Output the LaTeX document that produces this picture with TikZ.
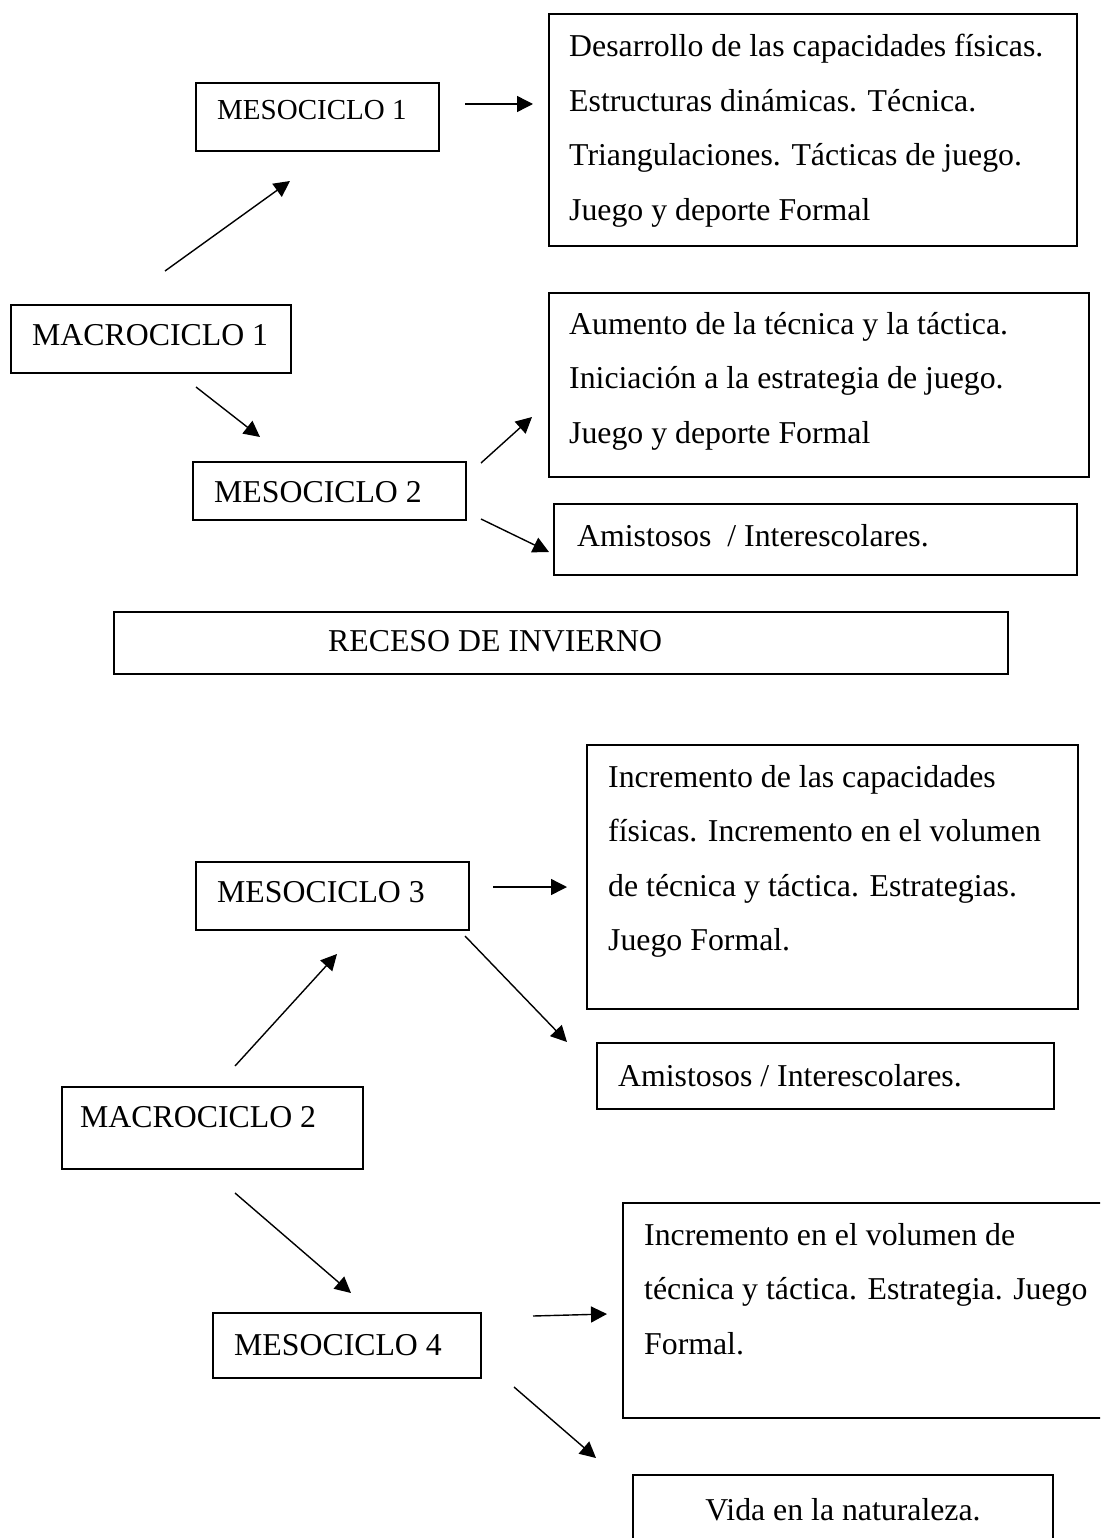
\documentclass[tikz,border=0pt]{standalone}
\usepackage{fontspec}
\setmainfont{Liberation Serif}
\usetikzlibrary{arrows.meta}
% strut that fixes the top of a paragraph node above its first baseline
\newcommand\firstln{\rule{0pt}{25pt}}
\begin{document}
\begin{tikzpicture}[x=1pt,y=-1pt,
  box/.style={draw, line width=1.8pt, rectangle, inner sep=0pt},
  lbl/.style={anchor=base west, inner sep=0pt, font=\fontsize{31.8}{38}\selectfont},
  para/.style={anchor=north west, inner sep=0pt, align=left, font=\fontsize{31.8}{54.5}\selectfont},
  arr/.style={-{Triangle[length=16pt,width=16pt]}, line width=1.4pt}]
\useasboundingbox (0,0) rectangle (1100,1538);
\clip (0,0) rectangle (1100,1538);

% ---------- boxes ----------
\node[box, minimum width=243pt, minimum height=68pt]  (meso1)  at (317.5,117)  {};
\node[box, minimum width=528pt, minimum height=232pt] (cont1)  at (813,130)    {};
\node[box, minimum width=280pt, minimum height=68pt]  (macro1) at (151,339)    {};
\node[box, minimum width=540pt, minimum height=184pt] (cont2)  at (819,385)    {};
\node[box, minimum width=273pt, minimum height=58pt]  (meso2)  at (329.5,491)  {};
\node[box, minimum width=523pt, minimum height=71pt]  (amis1)  at (815.5,539.5){};
\node[box, minimum width=894pt, minimum height=62pt]  (receso) at (561,643)    {};
\node[box, minimum width=491pt, minimum height=264pt] (cont3)  at (832.5,877)  {};
\node[box, minimum width=273pt, minimum height=68pt]  (meso3)  at (332.5,896)  {};
\node[box, minimum width=457pt, minimum height=66pt]  (amis2)  at (825.5,1076) {};
\node[box, minimum width=301pt, minimum height=82pt]  (macro2) at (212.5,1128) {};
\node[box, minimum width=487pt, minimum height=215pt] (cont4)  at (866.5,1310.5){};
\node[box, minimum width=268pt, minimum height=65pt]  (meso4)  at (347,1345.5) {};
\node[box, minimum width=420pt, minimum height=85pt]  (vida)   at (843,1517.5) {};

% ---------- texts ----------
\node[lbl, font=\fontsize{29}{35}\selectfont] (meso1t) at (217,120) {MESOCICLO 1};
\node[lbl] (macro1t) at (32,345)  {MACROCICLO 1};
\node[lbl] (meso2t)  at (214,502) {MESOCICLO 2};
\node[lbl] (amis1t)  at (577,546) {Amistosos \ / Interescolares.};
\node[lbl] (recesot) at (328,651) {RECESO DE INVIERNO};
\node[lbl] (meso3t)  at (217,902) {MESOCICLO 3};
\node[lbl] (amis2t)  at (618,1086) {Amistosos / Interescolares.};
\node[lbl] (macro2t) at (80,1127) {MACROCICLO 2};
\node[lbl] (meso4t)  at (234,1355) {MESOCICLO 4};
\node[lbl, anchor=base] (vidat) at (843,1520) {Vida en la naturaleza.};

\node[para] (cont1t) at (569,31.5) {\firstln Desarrollo de las capacidades físicas.\\
  Estructuras dinámicas. Técnica.\\
  Triangulaciones. Tácticas de juego.\\
  Juego y deporte Formal};
\node[para] (cont2t) at (569,309) {\firstln Aumento de la técnica y la táctica.\\
  Iniciación a la estrategia de juego.\\
  Juego y deporte Formal};
\node[para] (cont3t) at (608,762) {\firstln Incremento de las capacidades\\
  físicas. Incremento en el volumen\\
  de técnica y táctica. Estrategias.\\
  Juego Formal.};
\node[para] (cont4t) at (644,1220) {\firstln Incremento en el volumen de\\
  técnica y táctica. Estrategia. Juego\\
  Formal.};

% ---------- connector end points ----------
\coordinate (a1s) at (465,104);  \coordinate (a1e) at (533,104);
\coordinate (a2s) at (165,271);  \coordinate (a2e) at (290,181);
\coordinate (a3s) at (196,387);  \coordinate (a3e) at (260,437);
\coordinate (a4s) at (481,463);  \coordinate (a4e) at (532,417);
\coordinate (a5s) at (481,519);  \coordinate (a5e) at (549,552);
\coordinate (b1s) at (235,1066); \coordinate (b1e) at (337,954);
\coordinate (b2s) at (493,887);  \coordinate (b2e) at (567,887);
\coordinate (b3s) at (465,936);  \coordinate (b3e) at (567,1042);
\coordinate (b4s) at (235,1193); \coordinate (b4e) at (351,1293);
\coordinate (b5s) at (533,1316); \coordinate (b5e) at (607,1314);
\coordinate (b6s) at (514,1387); \coordinate (b6e) at (596,1458);

% ---------- connectors ----------
\draw[arr] (a1s) -- (a1e);
\draw[arr] (a2s) -- (a2e);
\draw[arr] (a3s) -- (a3e);
\draw[arr] (a4s) -- (a4e);
\draw[arr] (a5s) -- (a5e);
\draw[arr] (b1s) -- (b1e);
\draw[arr] (b2s) -- (b2e);
\draw[arr] (b3s) -- (b3e);
\draw[arr] (b4s) -- (b4e);
\draw[arr] (b5s) -- (b5e);
\draw[arr] (b6s) -- (b6e);
\end{tikzpicture}
\end{document}
